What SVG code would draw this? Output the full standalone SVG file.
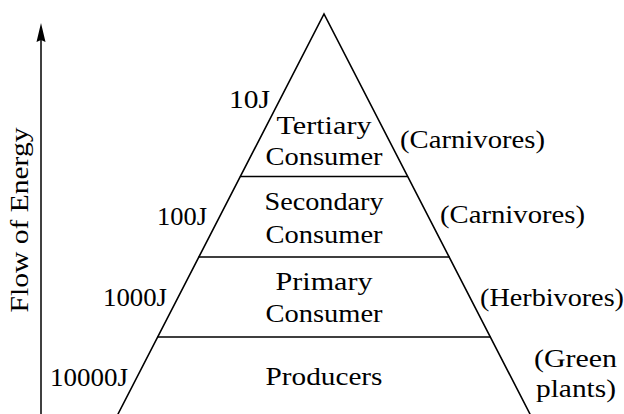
<svg xmlns="http://www.w3.org/2000/svg" width="624" height="414" viewBox="0 0 624 414">
  <style>
    .ln { stroke: #000; stroke-width: 1.6; fill: none; stroke-linecap: round; }
    text { font-family: "Liberation Serif", "DejaVu Serif", serif; font-size: 25px; fill: #000; }
    .c { text-anchor: middle; }
    .r { text-anchor: end; }
    .l { text-anchor: start; }
  </style>
  <rect width="624" height="414" fill="#fff"/>

  <g id="connectors">
    <line x1="41" y1="414" x2="41" y2="30" class="ln" style="stroke-width:1.5"/>
    <path d="M41 23 L45.5 42 L41 40 L36.5 42 Z" fill="#000"/>
  </g>

  <g id="pyramid">
    <path class="ln" d="M118 414 L324 14 L530 414"/>
  </g>

  <g id="tertiary">
    <line class="ln" x1="240.6" y1="176.5" x2="407.4" y2="176.5"/>
    <text class="r" x="270" y="108" textLength="41" lengthAdjust="spacingAndGlyphs">10J</text>
    <text class="c" x="324" y="134" textLength="95" lengthAdjust="spacingAndGlyphs">Tertiary</text>
    <text class="c" x="324" y="165" textLength="117" lengthAdjust="spacingAndGlyphs">Consumer</text>
    <text class="l" x="400" y="148" textLength="145" lengthAdjust="spacingAndGlyphs">(Carnivores)</text>
  </g>

  <g id="secondary">
    <line class="ln" x1="198.9" y1="257" x2="449.1" y2="257"/>
    <text class="r" x="207" y="225" textLength="50" lengthAdjust="spacingAndGlyphs">100J</text>
    <text class="c" x="324" y="210" textLength="119" lengthAdjust="spacingAndGlyphs">Secondary</text>
    <text class="c" x="324" y="243" textLength="117" lengthAdjust="spacingAndGlyphs">Consumer</text>
    <text class="l" x="440" y="223" textLength="145" lengthAdjust="spacingAndGlyphs">(Carnivores)</text>
  </g>

  <g id="primary">
    <line class="ln" x1="157.7" y1="337" x2="490.3" y2="337"/>
    <text class="r" x="167" y="306" textLength="64" lengthAdjust="spacingAndGlyphs">1000J</text>
    <text class="c" x="324" y="290" textLength="97" lengthAdjust="spacingAndGlyphs">Primary</text>
    <text class="c" x="324" y="322" textLength="117" lengthAdjust="spacingAndGlyphs">Consumer</text>
    <text class="l" x="480" y="306" textLength="144" lengthAdjust="spacingAndGlyphs">(Herbivores)</text>
  </g>

  <g id="producers">
    <text class="r" x="128" y="386" textLength="78" lengthAdjust="spacingAndGlyphs">10000J</text>
    <text class="c" x="324" y="385" textLength="117" lengthAdjust="spacingAndGlyphs">Producers</text>
    <text class="l" x="534" y="367" textLength="83" lengthAdjust="spacingAndGlyphs">(Green</text>
    <text class="l" x="536" y="397" textLength="80" lengthAdjust="spacingAndGlyphs">plants)</text>
  </g>

  <g id="axis-label">
    <text class="c" transform="translate(28,220) rotate(-90)" textLength="185" lengthAdjust="spacingAndGlyphs">Flow of Energy</text>
  </g>
</svg>
